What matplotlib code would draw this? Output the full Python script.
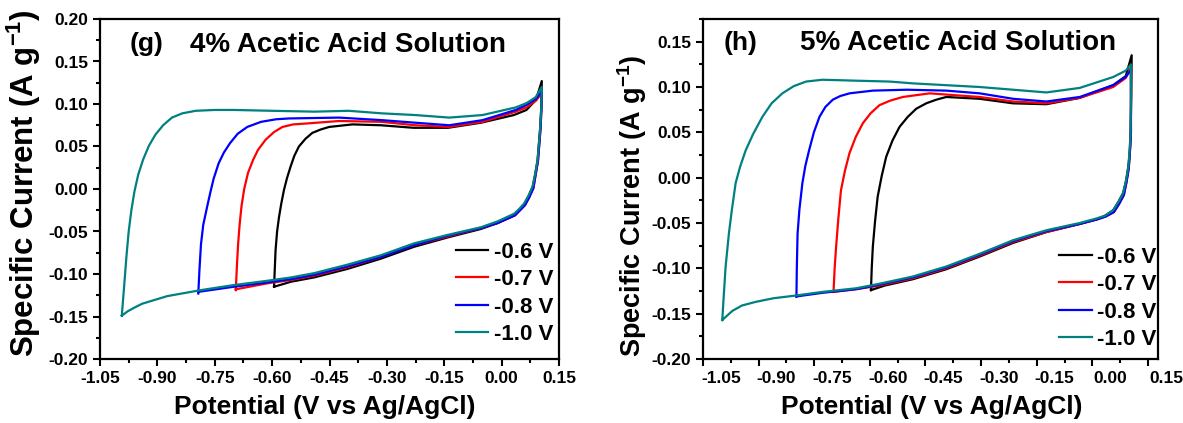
import matplotlib.pyplot as plt
from matplotlib.ticker import MultipleLocator, FormatStrFormatter
from matplotlib.transforms import ScaledTranslation

plt.rcParams['font.family'] = ['Liberation Sans', 'DejaVu Sans']
plt.rcParams['font.weight'] = 'bold'
plt.rcParams['axes.unicode_minus'] = False
plt.rcParams['mathtext.fontset'] = 'custom'
plt.rcParams['mathtext.rm'] = 'Liberation Sans:bold'
plt.rcParams['mathtext.bf'] = 'Liberation Sans:bold'
plt.rcParams['mathtext.default'] = 'bf'

labels = ['-0.6 V', '-0.7 V', '-0.8 V', '-1.0 V']
colors = ['black', 'red', 'blue', '#008080']

# (g) 4% acetic acid -- each loop: anodic branch, then cathodic branch back
g_x_06 = [-0.595, -0.591, -0.587, -0.582, -0.576, -0.569, -0.561, -0.552, -0.542, -0.530, -0.513, -0.495, -0.473, -0.451, -0.390,
          -0.316, -0.230, -0.140, -0.054, 0.032, 0.065, 0.090, 0.105,
          0.104, 0.101, 0.094, 0.088, 0.081, 0.070, 0.059, 0.047, 0.033, -0.010, -0.054, -0.141, -0.229, -0.316, -0.403,
          -0.490, -0.550, -0.595]
g_y_06 = [-0.115, -0.072, -0.050, -0.033, -0.017, -0.001, 0.013, 0.026, 0.039, 0.050, 0.059, 0.066, 0.070, 0.073, 0.076,
          0.075, 0.072, 0.072, 0.078, 0.087, 0.093, 0.105, 0.127,
          0.100, 0.073, 0.034, 0.018, 0.002, -0.009, -0.018, -0.024, -0.030, -0.040, -0.047, -0.057, -0.068, -0.082, -0.094,
          -0.104, -0.109, -0.115]
g_x_07 = [-0.695, -0.692, -0.689, -0.685, -0.680, -0.673, -0.663, -0.650, -0.637, -0.617, -0.595, -0.573, -0.545, -0.512, -0.425,
          -0.313, -0.226, -0.137, -0.050, 0.037, 0.065, 0.090, 0.105,
          0.104, 0.102, 0.095, 0.089, 0.083, 0.072, 0.061, 0.048, 0.035, -0.010, -0.054, -0.141, -0.229, -0.316, -0.403,
          -0.490, -0.550, -0.613, -0.695]
g_y_07 = [-0.119, -0.090, -0.065, -0.042, -0.020, 0.000, 0.019, 0.034, 0.046, 0.058, 0.067, 0.073, 0.076, 0.077, 0.080,
          0.079, 0.075, 0.073, 0.079, 0.091, 0.096, 0.104, 0.113,
          0.095, 0.073, 0.033, 0.017, 0.001, -0.010, -0.019, -0.025, -0.031, -0.040, -0.046, -0.056, -0.066, -0.080, -0.092,
          -0.102, -0.107, -0.111, -0.118]
g_x_08 = [-0.793, -0.790, -0.786, -0.780, -0.769, -0.761, -0.753, -0.740, -0.726, -0.710, -0.690, -0.665, -0.629,
          -0.590, -0.556, -0.425, -0.313, -0.226, -0.137, -0.050, 0.037, 0.065, 0.090, 0.105,
          0.104, 0.102, 0.095, 0.089, 0.083, 0.072, 0.061, 0.048, 0.035, -0.010, -0.054, -0.141, -0.229, -0.316, -0.403,
          -0.490, -0.550, -0.613, -0.700, -0.793]
g_y_08 = [-0.123, -0.095, -0.065, -0.042, -0.019, -0.003, 0.012, 0.030, 0.043, 0.054, 0.065, 0.073, 0.079,
          0.082, 0.083, 0.084, 0.081, 0.078, 0.075, 0.081, 0.093, 0.099, 0.106, 0.115,
          0.095, 0.073, 0.033, 0.017, 0.001, -0.010, -0.019, -0.025, -0.031, -0.040, -0.046, -0.055, -0.066, -0.080, -0.091,
          -0.101, -0.106, -0.110, -0.115, -0.121]
g_x_10 = [-0.993, -0.987, -0.981, -0.975, -0.968, -0.960, -0.950, -0.937, -0.922, -0.905, -0.885, -0.862, -0.835, -0.800,
          -0.750, -0.700, -0.600, -0.490, -0.400, -0.313, -0.226, -0.137, -0.050, 0.037, 0.065, 0.089, 0.105,
          0.104, 0.101, 0.094, 0.088, 0.081, 0.070, 0.059, 0.047, 0.033, -0.010, -0.054, -0.141, -0.229, -0.316, -0.403,
          -0.490, -0.550, -0.613, -0.700, -0.787, -0.874, -0.918, -0.940, -0.962, -0.978, -0.993]
g_y_10 = [-0.149, -0.115, -0.080, -0.050, -0.025, -0.003, 0.017, 0.035, 0.051, 0.064, 0.075, 0.084, 0.089, 0.092,
          0.093, 0.093, 0.092, 0.091, 0.092, 0.089, 0.087, 0.084, 0.087, 0.096, 0.101, 0.108, 0.120,
          0.097, 0.073, 0.034, 0.018, 0.003, -0.008, -0.017, -0.023, -0.029, -0.038, -0.045, -0.054, -0.064, -0.078, -0.089,
          -0.099, -0.104, -0.108, -0.113, -0.119, -0.126, -0.132, -0.135, -0.140, -0.144, -0.149]

# (h) 5% acetic acid
h_x_06 = [-0.597, -0.595, -0.592, -0.586, -0.579, -0.568, -0.556, -0.539, -0.520, -0.498, -0.475, -0.448, -0.421, -0.394,
          -0.304, -0.214, -0.124, -0.034, 0.056, 0.090, 0.106,
          0.105, 0.103, 0.101, 0.097, 0.091, 0.083, 0.070, 0.056, 0.034, 0.011, -0.034, -0.124, -0.214, -0.304, -0.394,
          -0.484, -0.560, -0.597]
h_y_06 = [-0.124, -0.100, -0.076, -0.048, -0.021, 0.002, 0.023, 0.041, 0.056, 0.067, 0.076, 0.082, 0.086, 0.089,
          0.087, 0.082, 0.081, 0.088, 0.102, 0.112, 0.135,
          0.090, 0.049, 0.028, 0.012, -0.003, -0.017, -0.027, -0.036, -0.042, -0.046, -0.051, -0.060, -0.072, -0.087, -0.101,
          -0.112, -0.119, -0.124]
h_x_07 = [-0.698, -0.695, -0.691, -0.685, -0.678, -0.667, -0.655, -0.638, -0.619, -0.598, -0.574, -0.545, -0.511, -0.439,
          -0.304, -0.214, -0.124, -0.034, 0.056, 0.090, 0.104,
          0.104, 0.104, 0.101, 0.098, 0.092, 0.085, 0.072, 0.058, 0.035, 0.013, -0.034, -0.124, -0.214, -0.304, -0.394,
          -0.484, -0.574, -0.637, -0.698]
h_y_07 = [-0.126, -0.100, -0.076, -0.045, -0.014, 0.008, 0.027, 0.045, 0.060, 0.071, 0.080, 0.085, 0.089, 0.093,
          0.089, 0.084, 0.082, 0.088, 0.100, 0.110, 0.121,
          0.085, 0.049, 0.027, 0.010, -0.005, -0.019, -0.029, -0.038, -0.043, -0.046, -0.051, -0.060, -0.071, -0.086, -0.100,
          -0.111, -0.119, -0.123, -0.126]
h_x_08 = [-0.798, -0.797, -0.795, -0.790, -0.782, -0.774, -0.764, -0.751, -0.736, -0.720, -0.700, -0.680, -0.655, -0.592,
          -0.500, -0.394, -0.304, -0.214, -0.124, -0.034, 0.056, 0.090, 0.104,
          0.104, 0.104, 0.101, 0.098, 0.092, 0.085, 0.072, 0.058, 0.035, 0.013, -0.034, -0.124, -0.214, -0.304, -0.394,
          -0.484, -0.574, -0.637, -0.728, -0.798]
h_y_08 = [-0.131, -0.100, -0.062, -0.035, -0.006, 0.013, 0.030, 0.050, 0.067, 0.078, 0.086, 0.090, 0.093, 0.096,
          0.097, 0.096, 0.093, 0.087, 0.084, 0.089, 0.102, 0.111, 0.119,
          0.085, 0.049, 0.027, 0.010, -0.005, -0.019, -0.029, -0.038, -0.043, -0.046, -0.051, -0.059, -0.070, -0.085, -0.099,
          -0.110, -0.118, -0.123, -0.127, -0.131]
h_x_10 = [-0.998, -0.994, -0.989, -0.980, -0.972, -0.962, -0.950, -0.935, -0.915, -0.890, -0.865, -0.836, -0.805, -0.772,
          -0.728, -0.640, -0.547, -0.484, -0.394, -0.304, -0.214, -0.124, -0.034, 0.056, 0.090, 0.104,
          0.104, 0.103, 0.100, 0.097, 0.091, 0.083, 0.070, 0.056, 0.034, 0.011, -0.034, -0.124, -0.214, -0.304, -0.394,
          -0.484, -0.574, -0.637, -0.728, -0.800, -0.860, -0.908, -0.945, -0.971, -0.998]
h_y_10 = [-0.157, -0.130, -0.098, -0.061, -0.035, -0.006, 0.012, 0.030, 0.048, 0.067, 0.082, 0.093, 0.101, 0.106,
          0.108, 0.107, 0.106, 0.104, 0.102, 0.100, 0.097, 0.094, 0.099, 0.111, 0.118, 0.125,
          0.085, 0.049, 0.028, 0.012, -0.003, -0.017, -0.027, -0.036, -0.042, -0.045, -0.050, -0.058, -0.069, -0.084, -0.098,
          -0.109, -0.117, -0.122, -0.126, -0.130, -0.133, -0.137, -0.141, -0.147, -0.157]

fig = plt.figure(figsize=(11.83, 4.23), dpi=100)
W, H = 1183, 423


def style_axes(ax, xlim, ylim, ylabel_size):
    ax.set_xlim(*xlim)
    ax.set_ylim(*ylim)
    ax.xaxis.set_major_locator(MultipleLocator(0.15))
    ax.xaxis.set_minor_locator(MultipleLocator(0.075))
    ax.yaxis.set_major_locator(MultipleLocator(0.05))
    ax.yaxis.set_minor_locator(MultipleLocator(0.025))
    ax.xaxis.set_major_formatter(FormatStrFormatter('%.2f'))
    ax.yaxis.set_major_formatter(FormatStrFormatter('%.2f'))
    ax.tick_params(which='both', direction='out', width=1.5, top=False, right=False,
                   labelsize=12.5)
    ax.tick_params(which='major', length=5)
    ax.tick_params(which='minor', length=3)
    for s in ax.spines.values():
        s.set_linewidth(1.6)
    ax.set_xlabel('Potential (V vs Ag/AgCl)', fontsize=19, fontweight='bold')
    ax.set_ylabel(r'Specific Current (A g$^{-1}$)', fontsize=ylabel_size, fontweight='bold')


# left panel (g)
ax1 = fig.add_axes([100 / W, 1 - 359 / H, 459 / W, 340 / H])
for xs, ys, c, lab in zip([g_x_06, g_x_07, g_x_08, g_x_10], [g_y_06, g_y_07, g_y_08, g_y_10], colors, labels):
    ax1.plot(xs, ys, color=c, lw=1.6, label=lab)
style_axes(ax1, (-1.05, 0.15), (-0.20, 0.20), 22.5)
ax1.xaxis.set_label_coords(0.49, -0.106)
ax1.yaxis.set_label_coords(-0.124, 0.517)
ax1.text(0.065, 0.925, '(g)', transform=ax1.transAxes, fontsize=19, fontweight='bold', va='center')
ax1.text(0.195, 0.925, '4% Acetic Acid Solution', transform=ax1.transAxes, fontsize=20,
         fontweight='bold', va='center')
ax1.legend(loc='lower right', bbox_to_anchor=(0.987, 0.041), borderpad=0, borderaxespad=0,
           frameon=False, fontsize=16, handlelength=1.45, handletextpad=0.25, labelspacing=0.29)

# right panel (h)
ax2 = fig.add_axes([703 / W, 1 - 359 / H, 455 / W, 340 / H])
for xs, ys, c, lab in zip([h_x_06, h_x_07, h_x_08, h_x_10], [h_y_06, h_y_07, h_y_08, h_y_10], colors, labels):
    ax2.plot(xs, ys, color=c, lw=1.6, label=lab)
style_axes(ax2, (-1.05, 0.177), (-0.20, 0.175), 19.5)
ax2.xaxis.set_label_coords(0.503, -0.106)
ax2.yaxis.set_label_coords(-0.119, 0.45)
ax2.text(0.045, 0.93, '(h)', transform=ax2.transAxes, fontsize=19, fontweight='bold', va='center')
ax2.text(0.213, 0.93, '5% Acetic Acid Solution', transform=ax2.transAxes, fontsize=20,
         fontweight='bold', va='center')
ax2.legend(loc='lower right', bbox_to_anchor=(0.997, 0.026), borderpad=0, borderaxespad=0,
           frameon=False, fontsize=16, handlelength=1.45, handletextpad=0.25, labelspacing=0.29)

# the x tick labels of panel (h) sit a little right of their ticks in the original
ax2.set_xticks([-1.05, -0.90, -0.75, -0.60, -0.45, -0.30, -0.15, 0.00, 0.15])
ax2.set_xlim(-1.05, 0.177)
shift = ScaledTranslation(0.18, 0, fig.dpi_scale_trans)
for t in ax2.xaxis.get_major_ticks():
    t.label1.set_transform(t.label1.get_transform() + shift)

fig.savefig('out.png', dpi=100)
